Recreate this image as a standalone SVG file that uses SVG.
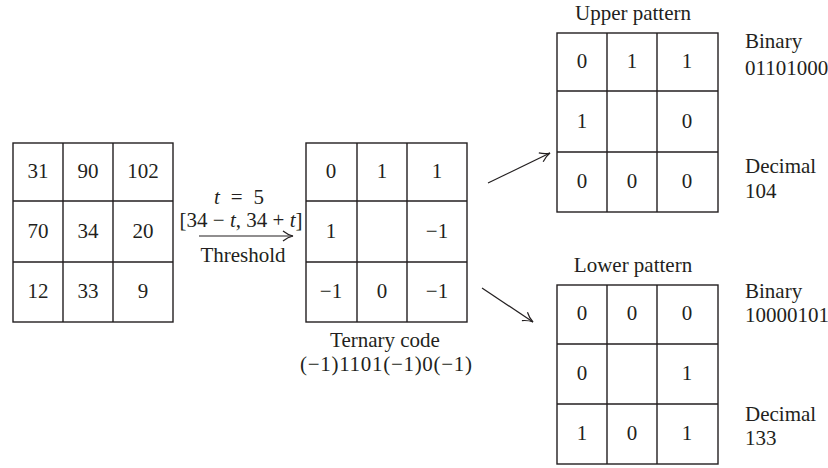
<svg xmlns="http://www.w3.org/2000/svg" width="828" height="468" viewBox="0 0 828 468">
<style>
.g{fill:#fff;stroke:#231f20;stroke-width:1.4}
.l{stroke:#231f20;stroke-width:1.4;fill:none}
text{font-family:"Liberation Serif","Times New Roman",serif;font-size:21px;fill:#231f20}
.c{text-anchor:middle}
.i{font-style:italic}
.a{stroke:#231f20;stroke-width:1.2;fill:none}
</style>
<defs>
<marker id="ah" markerWidth="14" markerHeight="12" refX="11" refY="6" orient="auto" markerUnits="userSpaceOnUse">
<path d="M1,1 Q6,5 11,6 Q6,7 1,11" fill="none" stroke="#231f20" stroke-width="1.2"/>
</marker>
</defs>
<rect width="828" height="468" fill="#fff"/>

<g id="input">
<rect class="g" x="13" y="143" width="160" height="179"/>
<path class="l" d="M63,143V322M113,143V322M13,201H173M13,262H173"/>
<g class="c">
<text x="38" y="178">31</text><text x="88" y="178">90</text><text x="143" y="178">102</text>
<text x="38" y="238">70</text><text x="88" y="238">34</text><text x="143" y="238">20</text>
<text x="38" y="298">12</text><text x="88" y="298">33</text><text x="143" y="298">9</text>
</g>
</g>

<g id="threshold">
<text class="c" x="239" y="204" textLength="50" lengthAdjust="spacing"><tspan class="i">t</tspan> = 5</text>
<text class="c" x="241" y="227" textLength="123" lengthAdjust="spacing">[34 − <tspan class="i">t</tspan>, 34 + <tspan class="i">t</tspan>]</text>
<text class="c" x="243" y="262">Threshold</text>
</g>

<g id="ternary">
<rect class="g" x="306" y="143" width="161" height="179"/>
<path class="l" d="M357,143V322M407,143V322M306,201H467M306,262H467"/>
<g class="c">
<text x="331" y="178">0</text><text x="382" y="178">1</text><text x="437" y="178">1</text>
<text x="331" y="238">1</text><text x="437" y="238">−1</text>
<text x="331" y="298">−1</text><text x="382" y="298">0</text><text x="437" y="298">−1</text>
</g>
<text class="c" x="385" y="347">Ternary code</text>
<text class="c" x="386" y="371" textLength="172" lengthAdjust="spacing">(−1)1101(−1)0(−1)</text>
</g>

<g id="upper">
<text class="c" x="633" y="20">Upper pattern</text>
<rect class="g" x="557" y="33" width="161" height="179"/>
<path class="l" d="M607,33V212M657,33V212M557,91H718M557,152H718"/>
<g class="c">
<text x="582" y="68">0</text><text x="632" y="68">1</text><text x="687" y="68">1</text>
<text x="582" y="128">1</text><text x="687" y="128">0</text>
<text x="582" y="188">0</text><text x="632" y="188">0</text><text x="687" y="188">0</text>
</g>
<text x="745" y="48">Binary</text>
<text x="745" y="75">01101000</text>
<text x="745" y="173">Decimal</text>
<text x="745" y="198">104</text>
</g>

<g id="lower">
<text class="c" x="633" y="272">Lower pattern</text>
<rect class="g" x="557" y="285" width="161" height="179"/>
<path class="l" d="M607,285V464M657,285V464M557,344H718M557,404H718"/>
<g class="c">
<text x="582" y="320">0</text><text x="632" y="320">0</text><text x="687" y="320">0</text>
<text x="582" y="380">0</text><text x="687" y="380">1</text>
<text x="582" y="440">1</text><text x="632" y="440">0</text><text x="687" y="440">1</text>
</g>
<text x="745" y="298">Binary</text>
<text x="745" y="322">10000101</text>
<text x="745" y="421">Decimal</text>
<text x="745" y="445">133</text>
</g>

<g id="connectors">
<line class="a" x1="199" y1="236" x2="293" y2="236" marker-end="url(#ah)"/>
<line class="a" x1="488" y1="183" x2="550" y2="153" marker-end="url(#ah)"/>
<line class="a" x1="482" y1="288" x2="533" y2="322" marker-end="url(#ah)"/>
</g>
</svg>
